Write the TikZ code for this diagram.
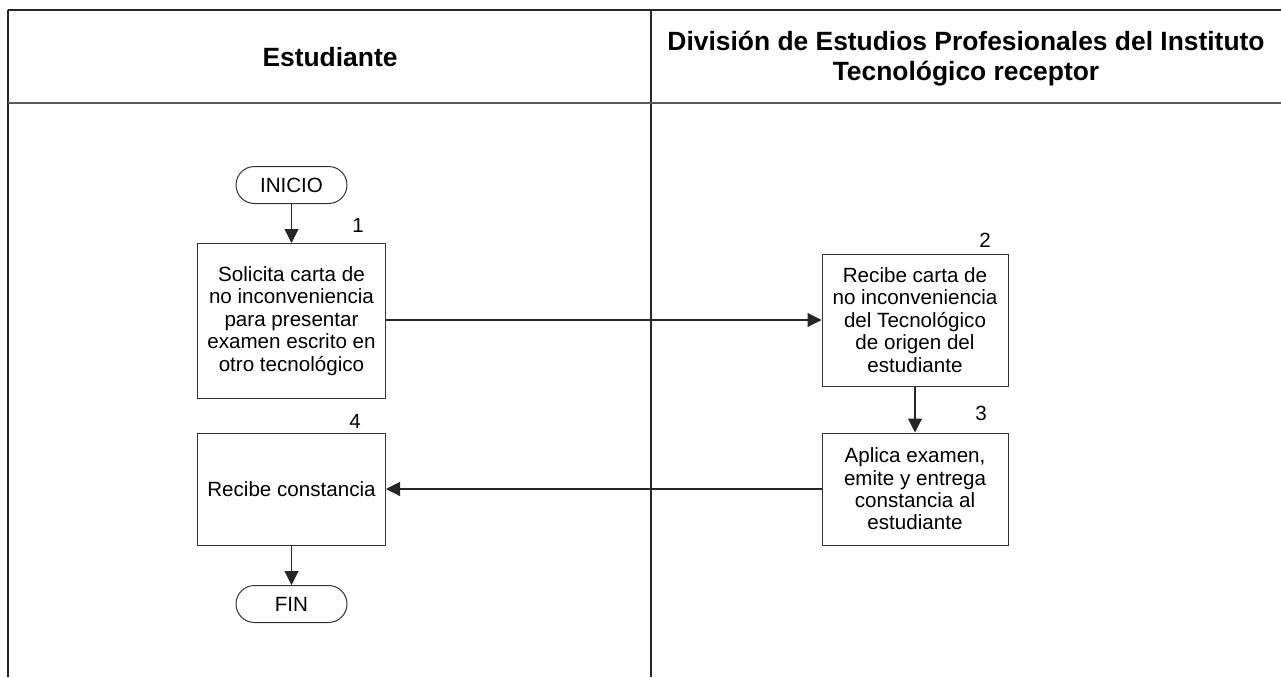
\documentclass[tikz,border=0pt]{standalone}
\usepackage{fontspec}
\setmainfont{Liberation Sans}
\usetikzlibrary{arrows.meta}
\begin{document}
\begin{tikzpicture}[x=1pt,y=-1pt,
  lane/.style={line width=1.3pt,draw=black!85},
  procbox/.style={draw=black!80,line width=1pt,rectangle,inner sep=0pt,align=center,
    font=\fontsize{20.6}{22.4}\selectfont},
  term/.style={draw=black!80,line width=1pt,rectangle,rounded corners=18.5pt,minimum width=111pt,
    minimum height=37pt,inner sep=0pt,font=\fontsize{20.6}{22.4}\selectfont},
  numlbl/.style={font=\fontsize{20.6}{22.4}\selectfont,inner sep=0pt},
  hdr/.style={font=\bfseries\fontsize{26.4}{30}\selectfont,align=center,inner sep=0pt},
  flow/.style={line width=1.1pt,draw=black!85,-{Triangle[length=14pt,width=14pt]}}
]
\useasboundingbox (0,0) rectangle (1281,677);
\fill[white] (0,0) rectangle (1281,677);
% lanes
\coordinate (tl) at (8,10);
\coordinate (tr) at (1281,10);
\coordinate (bl) at (8,677);
\coordinate (hl) at (8,103);
\coordinate (hr) at (1281,103);
\coordinate (dt) at (651,10);
\coordinate (db) at (651,677);
\draw[lane] (tl) -- (tr);
\draw[lane] (tl) -- (bl);
\draw[lane] (dt) -- (db);
\draw[lane,draw=black!65] (hl) -- (hr);
\node[hdr] (h1) at (330,57) {Estudiante};
\node[hdr] (h2) at (966,59) {División de Estudios Profesionales del Instituto\\Tecnológico receptor};
% nodes
\node[term] (inicio) at (291.5,185) {INICIO};
\node[procbox,minimum width=188pt,minimum height=155pt] (b1) at (291.5,321)
  {Solicita carta de\\no inconveniencia\\para presentar\\examen escrito en\\otro tecnológico};
\node[procbox,minimum width=186pt,minimum height=132pt] (b2) at (915,320)
  {Recibe carta de\\no inconveniencia\\del Tecnológico\\de origen del\\estudiante};
\node[procbox,minimum width=186pt,minimum height=112pt] (b3) at (915,489)
  {Aplica examen,\\emite y entrega\\constancia al\\estudiante};
\node[procbox,minimum width=188pt,minimum height=112pt] (b4) at (291.5,489) {Recibe constancia};
\node[term] (fin) at (291.5,604) {FIN};
\node[numlbl] (n1) at (358,225) {1};
\node[numlbl] (n2) at (985,240) {2};
\node[numlbl] (n3) at (981,413) {3};
\node[numlbl] (n4) at (355,421) {4};
% connectors
\draw[flow] (inicio.south) -- (b1.north);
\draw[flow] (b1.east |- b2.west) -- (b2.west);
\draw[flow] (b2.south) -- (b3.north);
\draw[flow] (b3.west) -- (b4.east);
\draw[flow] (b4.south) -- (fin.north);
\end{tikzpicture}
\end{document}
